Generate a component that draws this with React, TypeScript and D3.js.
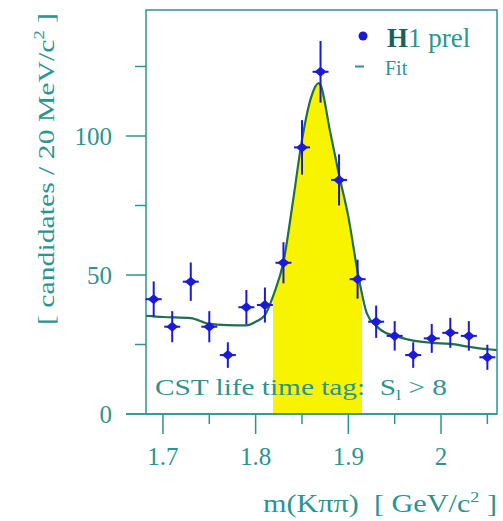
import React from "react";
import * as d3 from "d3";

// measured D+ -> K pi pi candidates, 20 MeV bins
const binCentres = [1.69, 1.71, 1.73, 1.75, 1.77, 1.79, 1.81, 1.83, 1.85, 1.87, 1.89, 1.91, 1.93, 1.95, 1.97, 1.99, 2.01, 2.03, 2.05];
const counts = [41.3, 31.4, 47.6, 31.4, 21.2, 38.4, 39.2, 54.4, 95.9, 123.1, 84.2, 48.5, 33.2, 28.1, 21.2, 27.2, 29.2, 28.1, 20.4];
const errors = [6.4, 5.6, 6.9, 5.6, 4.6, 6.2, 6.3, 7.4, 9.8, 11.1, 9.2, 7.0, 5.8, 5.3, 4.6, 5.2, 5.4, 5.3, 4.5];

// fit curve
const fitMass = [1.682, 1.70, 1.73, 1.75, 1.77, 1.79, 1.80, 1.81, 1.82, 1.83, 1.84, 1.85, 1.86, 1.868, 1.87, 1.88, 1.89, 1.90, 1.91, 1.92, 1.93, 1.94, 1.95, 1.97, 1.99, 2.01, 2.03, 2.05, 2.06];
const fitValue = [35.3, 34.9, 34.5, 32.4, 32.0, 31.9, 33.2, 35.6, 43.5, 54.7, 75.9, 98.6, 114.1, 119.0, 118.3, 102.2, 86.0, 71.0, 51.2, 36.2, 31.7, 29.2, 28.1, 26.4, 25.6, 25.2, 24.2, 23.3, 23.0];

const signalWindow = [1.8186, 1.9147];

const xMajor = [1.7, 1.8, 1.9, 2.0];
const xMinor = [1.75, 1.85, 1.95, 2.05];
const xLabels = ["1.7", "1.8", "1.9", "2"];
const yMajor = [0, 50, 100];
const yMinor = [25, 75, 125];

const teal = "#2a9590";
const blue = "#1a1ad8";
const fitColour = "#1f6e4e";
const serif = "Liberation Serif, Times New Roman, Times, serif";

export default function App() {
  const x = d3.scaleLinear().domain([1.6817, 2.0604]).range([146, 497]);
  const y = d3.scaleLinear().domain([0, 100]).range([414, 136]);

  const fitPts: [number, number][] = fitMass.map((m, i) => [m, fitValue[i]]);
  const line = d3
    .line<[number, number]>()
    .x((d) => x(d[0]))
    .y((d) => y(d[1]))
    .curve(d3.curveMonotoneX);
  const area = d3
    .area<[number, number]>()
    .x((d) => x(d[0]))
    .y0(y(0))
    .y1((d) => y(d[1]))
    .curve(d3.curveMonotoneX);

  return (
    <svg
      width={503}
      height={521}
      style={{ position: "absolute", left: 0, top: 0, background: "#fff", fontFamily: serif }}
    >
      <defs>
        <clipPath id="sig">
          <rect x={x(signalWindow[0])} y={0} width={x(signalWindow[1]) - x(signalWindow[0])} height={y(0)} />
        </clipPath>
      </defs>

      {/* signal region */}
      <path d={area(fitPts) || ""} fill="#f8f400" clipPath="url(#sig)" />

      {/* frame */}
      <rect x={146} y={10} width={351} height={404} fill="none" stroke={teal} strokeWidth={1.5} />
      <line x1={126} x2={497} y1={y(0)} y2={y(0)} stroke={teal} strokeWidth={1.5} />

      {/* y axis */}
      {yMajor.map((v) => (
        <g key={"ym" + v}>
          <line x1={126} x2={146} y1={y(v)} y2={y(v)} stroke={teal} strokeWidth={1.5} />
          <text x={112} y={y(v) + 9} textAnchor="end" fontSize={25} fill={teal}>
            {v}
          </text>
        </g>
      ))}
      {yMinor.map((v) => (
        <line key={"yn" + v} x1={135} x2={146} y1={y(v)} y2={y(v)} stroke={teal} strokeWidth={1.5} />
      ))}

      {/* x axis */}
      {xMajor.map((v, i) => (
        <g key={"xm" + v}>
          <line x1={x(v)} x2={x(v)} y1={y(0)} y2={y(0) + 20} stroke={teal} strokeWidth={1.5} />
          <text x={x(v)} y={465} textAnchor="middle" fontSize={25} fill={teal}>
            {xLabels[i]}
          </text>
        </g>
      ))}
      {xMinor.map((v) => (
        <line key={"xn" + v} x1={x(v)} x2={x(v)} y1={y(0)} y2={y(0) + 10} stroke={teal} strokeWidth={1.5} />
      ))}

      {/* fit */}
      <path d={line(fitPts) || ""} fill="none" stroke={fitColour} strokeWidth={2.2} />

      {/* data points */}
      {binCentres.map((m, i) => (
        <g key={"p" + i}>
          <line x1={x(m)} x2={x(m)} y1={y(counts[i] - errors[i])} y2={y(counts[i] + errors[i])} stroke={blue} strokeWidth={2} />
          <line x1={x(m) - 8} x2={x(m) + 8} y1={y(counts[i])} y2={y(counts[i])} stroke={blue} strokeWidth={2} />
          <path
            d={`M${x(m) - 6},${y(counts[i])}L${x(m)},${y(counts[i]) - 5}L${x(m) + 6},${y(counts[i])}L${x(m)},${y(counts[i]) + 5}Z`}
            fill={blue}
          />
        </g>
      ))}

      {/* annotation */}
      <text x={155} y={395} fontSize={24} fill={teal} textLength={292} lengthAdjust="spacingAndGlyphs">
        CST life time tag:{"\u00a0\u00a0"}S
        <tspan fontSize={15} dy={5}>l</tspan>
        <tspan dy={-5}>{"\u00a0>\u00a08"}</tspan>
      </text>

      {/* legend */}
      <circle cx={363} cy={36} r={4.5} fill={blue} />
      <text x={387} y={47} fontSize={27} fill={teal}>
        <tspan fontWeight="bold" fill="#1d5f5c">H</tspan>1 prel
      </text>
      <line x1={355} x2={364} y1={66.5} y2={66.5} stroke={teal} strokeWidth={2} />
      <text x={385} y={75} fontSize={20} fill={teal}>
        Fit
      </text>

      {/* axis titles */}
      <text x={263} y={512} fontSize={25} fill={teal} textLength={234} lengthAdjust="spacingAndGlyphs">
        m(Kππ){"\u00a0\u00a0"}[ GeV/c<tspan fontSize={15} dy={-10}>2</tspan>
        <tspan dy={10}>{"\u00a0]"}</tspan>
      </text>
      <text
        transform="translate(54,169) rotate(-90)"
        textAnchor="middle"
        fontSize={24}
        fill={teal}
        textLength={312}
        lengthAdjust="spacingAndGlyphs"
      >
        [ candidates / 20 MeV/c<tspan fontSize={15} dy={-10}>2</tspan>
        <tspan dy={10}>{"\u00a0]"}</tspan>
      </text>
    </svg>
  );
}
